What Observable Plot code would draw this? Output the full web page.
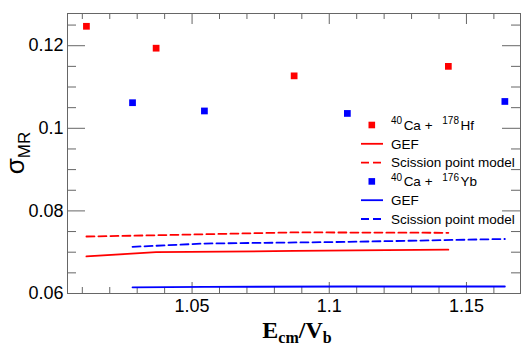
<!DOCTYPE html>
<html>
<head>
<meta charset="utf-8">
<script src="https://cdn.jsdelivr.net/npm/d3@7"></script>
<script src="https://cdn.jsdelivr.net/npm/@observablehq/plot@0.6"></script>
<style>
html,body{margin:0;padding:0;background:#fff;}
#chart svg{display:block;font-family:"Liberation Sans",Arial,sans-serif;}
</style>
</head>
<body>
<div id="chart"></div>
<script>
// Data
const hfX   = [1.0115, 1.0369, 1.0872, 1.1434];
const hfExp = [0.1247, 0.1194, 0.1127, 0.1150];
const hfGEF = [0.0690, 0.0700, 0.0703, 0.0706];
const hfSPM = [0.0738, 0.0741, 0.0748, 0.0747];
const ybX   = [1.0283, 1.0545, 1.1066, 1.1640];
const ybExp = [0.1062, 0.1042, 0.1036, 0.1065];
const ybGEF = [0.0615, 0.0616, 0.0617, 0.0617];
const ybSPM = [0.0713, 0.0721, 0.0725, 0.0732];

const xMajor = [1.05, 1.1, 1.15];
const xMinor = [1.01,1.02,1.03,1.04,1.06,1.07,1.08,1.09,1.11,1.12,1.13,1.14,1.16];
const yMajor = [0.06, 0.08, 0.1, 0.12];
const yMinor = [0.065,0.07,0.075,0.085,0.09,0.095,0.105,0.11,0.115,0.125];

const RED = "#ff0000", BLUE = "#0000ff", AX = "#666";
const fmt = d => String(+d.toFixed(3));
const rows = (xs, ys) => xs.map((x, i) => ({x, y: ys[i]}));

const W = 523, H = 347, ML = 67, MR = 3, MT = 13, MB = 54;
const PW = W - ML - MR, PH = H - MT - MB;

const xt = (data, len, top) => Plot.tickX(data, {x: d => d, stroke: AX, strokeWidth: 1,
  insetTop: top ? 0 : PH - len, insetBottom: top ? PH - len : 0});
const yt = (data, len, right) => Plot.tickY(data, {y: d => d, stroke: AX, strokeWidth: 1,
  insetLeft: right ? PW - len : 0, insetRight: right ? 0 : PW - len});

const svg = Plot.plot({
  width: W, height: H,
  marginLeft: ML, marginRight: MR, marginTop: MT, marginBottom: MB,
  style: {fontFamily: "Liberation Sans, Arial, sans-serif", color: "#000", background: "#fff"},
  x: {domain: [1.0046, 1.1697], label: null},
  y: {domain: [0.06, 0.1278], label: null},
  marks: [
    xt(xMajor, 11, false), xt(xMinor, 6, false),
    xt(xMajor, 11, true), xt(xMinor, 6, true),
    yt(yMajor, 18, false), yt(yMinor, 9, false),
    yt(yMajor, 18, true), yt(yMinor, 9, true),
    Plot.axisX(xMajor, {anchor: "bottom", tickSize: 0, tickPadding: 6, fontSize: 18, tickFormat: fmt, label: null, fill: "#000"}),
    Plot.axisY(yMajor, {anchor: "left", tickSize: 0, tickPadding: 4, fontSize: 18, tickFormat: fmt, label: null, fill: "#000"}),
    Plot.frame({stroke: AX, strokeWidth: 1}),
    Plot.line(rows(hfX, hfGEF), {x: "x", y: "y", stroke: RED, strokeWidth: 1.8}),
    Plot.line(rows(hfX, hfSPM), {x: "x", y: "y", stroke: RED, strokeWidth: 1.8, strokeDasharray: "8,4"}),
    Plot.line(rows(ybX, ybGEF), {x: "x", y: "y", stroke: BLUE, strokeWidth: 1.8}),
    Plot.line(rows(ybX, ybSPM), {x: "x", y: "y", stroke: BLUE, strokeWidth: 1.8, strokeDasharray: "8,4"}),
    Plot.dot(rows(hfX, hfExp), {x: "x", y: "y", symbol: "square", r: 3.8, fill: RED, stroke: "none"}),
    Plot.dot(rows(ybX, ybExp), {x: "x", y: "y", symbol: "square", r: 3.8, fill: BLUE, stroke: "none"})
  ]
});

const root = d3.select(svg);

// Y axis title: sigma_MR
const ytl = root.append("text")
  .attr("transform", "translate(24,153) rotate(-90)")
  .attr("text-anchor", "middle")
  .attr("font-family", "Liberation Sans, Arial, sans-serif")
  .attr("fill", "#000");
ytl.append("tspan").attr("font-size", 26).text("σ");
ytl.append("tspan").attr("font-size", 17).attr("dy", 6).text("MR");

// X axis title: E_cm / V_b
const xtl = root.append("text")
  .attr("x", 297).attr("y", 338)
  .attr("text-anchor", "middle")
  .attr("font-family", "Liberation Serif, Times New Roman, serif")
  .attr("font-weight", "bold")
  .attr("fill", "#000");
xtl.append("tspan").attr("font-size", 24).text("E");
xtl.append("tspan").attr("font-size", 16).attr("dy", 5).text("cm");
xtl.append("tspan").attr("font-size", 24).attr("dy", -5).text("/V");
xtl.append("tspan").attr("font-size", 16).attr("dy", 5).text("b");

// Legend
const legendItems = [
  {type: "square", color: RED, parts: [["40", true], ["Ca + ", false], ["178", true], ["Hf", false]]},
  {type: "solid", color: RED, parts: [["GEF", false]]},
  {type: "dash", color: RED, parts: [["Scission point model", false]]},
  {type: "square", color: BLUE, parts: [["40", true], ["Ca + ", false], ["176", true], ["Yb", false]]},
  {type: "solid", color: BLUE, parts: [["GEF", false]]},
  {type: "dash", color: BLUE, parts: [["Scission point model", false]]}
];
const lg = root.append("g").attr("font-family", "Liberation Sans, Arial, sans-serif")
  .attr("font-size", 13.5).attr("text-anchor", "start");
legendItems.forEach((it, i) => {
  const cy = 125 + i * 18.8;
  if (it.type === "square") {
    lg.append("rect").attr("x", 368.5).attr("y", cy - 3.3).attr("width", 6.6).attr("height", 6.6).attr("fill", it.color);
  } else {
    lg.append("line").attr("x1", 361).attr("x2", 383).attr("y1", cy).attr("y2", cy)
      .attr("stroke", it.color).attr("stroke-width", 1.8)
      .attr("stroke-dasharray", it.type === "dash" ? "8,4" : null);
  }
  const t = lg.append("text").attr("x", 391).attr("y", cy + 4.8).attr("fill", "#000").attr("text-anchor", "start");
  let raised = false;
  it.parts.forEach(([s, sup], j) => {
    const sp = t.append("tspan").text(s);
    if (sup) {
      sp.attr("font-size", 10).attr("dy", raised ? 0 : -5.5);
      if (j > 0) sp.attr("dx", 6);
      raised = true;
    } else {
      sp.attr("dy", raised ? 5.5 : 0);
      if (raised) sp.attr("dx", 1.5);
      raised = false;
    }
  });
});

document.getElementById("chart").appendChild(svg);
</script>
</body>
</html>
